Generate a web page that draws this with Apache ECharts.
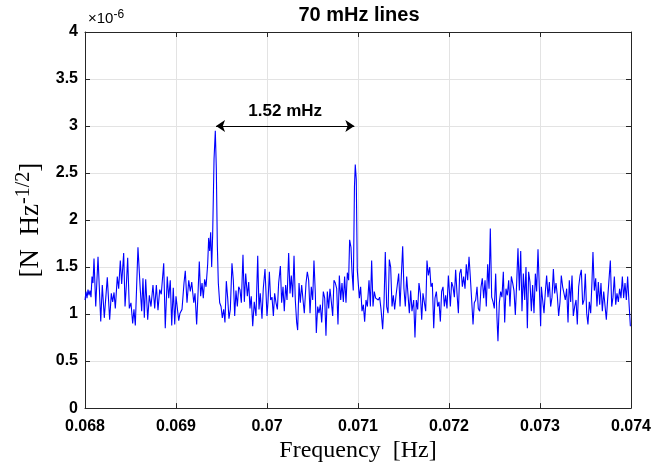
<!DOCTYPE html>
<html>
<head>
<meta charset="utf-8">
<script src="https://cdn.jsdelivr.net/npm/echarts@6/dist/echarts.min.js"></script>
<style>
html,body{margin:0;padding:0;background:#fff;}
#chart{width:667px;height:468px;}
</style>
</head>
<body>
<div id="chart"></div>
<script>
// Frequency bins [Hz]
const freqs = [
0.068000,0.068011,0.068022,0.068033,0.068044,0.068055,0.068066,0.068077,0.068088,0.068099,
0.068118,0.068143,0.068173,0.068190,0.068212,0.068245,0.068271,0.068289,0.068304,0.068319,
0.068333,0.068355,0.068370,0.068388,0.068403,0.068425,0.068440,0.068454,0.068469,0.068487,
0.068505,0.068524,0.068538,0.068553,0.068582,0.068608,0.068623,0.068637,0.068652,0.068667,
0.068689,0.068707,0.068725,0.068747,0.068766,0.068784,0.068802,0.068821,0.068838,0.068865,
0.068882,0.068904,0.068920,0.068937,0.068953,0.068970,0.068986,
0.069000,0.069011,0.069030,0.069044,0.069066,0.069088,0.069102,0.069121,0.069140,0.069157,
0.069173,0.069195,0.069209,0.069227,0.069242,0.069256,0.069271,0.069286,0.069300,0.069315,
0.069330,0.069348,0.069359,0.069370,0.069381,0.069392,0.069403,0.069418,0.069432,0.069443,
0.069454,0.069465,0.069480,0.069495,0.069509,0.069524,0.069538,0.069553,0.069568,0.069582,
0.069597,0.069615,0.069630,0.069645,0.069659,0.069674,0.069689,0.069703,0.069718,0.069736,
0.069751,0.069766,0.069784,0.069799,0.069813,0.069827,0.069843,0.069860,0.069879,0.069898,
0.069912,0.069926,0.069945,0.069959,0.069978,
0.070000,0.070011,0.070026,0.070040,0.070055,0.070070,0.070084,0.070099,0.070114,0.070128,
0.070147,0.070161,0.070176,0.070190,0.070205,0.070220,0.070238,0.070253,0.070267,0.070282,
0.070297,0.070311,0.070326,0.070337,0.070352,0.070366,0.070381,0.070396,0.070410,0.070429,
0.070443,0.070458,0.070473,0.070487,0.070502,0.070516,0.070531,0.070542,0.070557,0.070571,
0.070586,0.070601,0.070619,0.070634,0.070648,0.070663,0.070678,0.070692,0.070707,0.070722,
0.070736,0.070751,0.070766,0.070780,0.070795,0.070810,0.070824,0.070839,0.070853,0.070868,
0.070883,0.070897,0.070908,0.070923,
0.070934,0.070948,0.070961,0.070970,0.070981,0.070992,
0.071015,0.071029,0.071044,0.071059,0.071073,0.071088,0.071103,0.071121,0.071136,0.071150,
0.071165,0.071179,0.071194,0.071209,0.071223,0.071238,0.071253,0.071271,0.071286,0.071300,
0.071315,0.071330,0.071344,0.071359,0.071374,0.071388,0.071403,0.071418,0.071432,0.071447,
0.071462,0.071476,0.071491,0.071505,0.071520,0.071535,0.071549,0.071564,0.071579,0.071593,
0.071612,0.071626,0.071641,0.071656,0.071670,0.071685,0.071700,0.071714,0.071729,0.071744,
0.071758,0.071773,0.071788,0.071802,0.071817,0.071832,0.071846,0.071861,0.071875,0.071890,
0.071905,0.071919,0.071934,0.071949,0.071963,0.071978,0.071993,
0.072015,0.072029,0.072044,0.072059,0.072073,0.072088,0.072103,0.072117,0.072132,0.072147,
0.072161,0.072176,0.072190,0.072205,0.072220,0.072234,0.072249,0.072264,0.072278,0.072293,
0.072308,0.072322,0.072337,0.072352,0.072366,0.072381,0.072396,0.072410,0.072425,0.072440,
0.072454,0.072469,0.072484,0.072498,0.072513,0.072527,0.072538,0.072553,0.072568,0.072582,
0.072597,0.072612,0.072626,0.072641,0.072656,0.072670,0.072685,0.072700,0.072714,0.072729,
0.072744,0.072758,0.072773,0.072788,0.072802,0.072817,0.072832,0.072846,0.072861,0.072875,
0.072890,0.072905,0.072919,0.072934,0.072949,0.072963,0.072978,0.072993,0.073007,
0.073015,0.073029,0.073044,0.073059,0.073073,0.073088,0.073103,0.073117,0.073132,0.073147,
0.073161,0.073176,0.073190,0.073205,0.073220,0.073234,0.073249,0.073264,0.073278,0.073293,
0.073308,0.073322,0.073337,0.073352,0.073366,0.073381,0.073396,0.073410,0.073425,0.073440,
0.073454,0.073469,0.073484,0.073498,0.073513,0.073527,0.073542,0.073557,0.073571,0.073582,
0.073597,0.073612,0.073626,0.073641,0.073656,0.073670,0.073685,0.073700,0.073714,0.073729,
0.073744,0.073758,0.073773,0.073788,0.073802,0.073817,0.073832,0.073846,0.073861,0.073875,
0.073890,0.073905,0.073919,0.073934,0.073949,0.073963,0.073978,0.073993
];
// Amplitude spectral density, in units of 1e-6 N Hz^-1/2
const psd = [
1.15,1.24,1.17,1.26,1.20,1.25,1.18,1.40,1.33,1.59,
1.08,1.61,0.92,1.31,0.96,1.39,0.94,1.22,1.13,1.23,
1.06,1.40,1.27,1.57,1.32,1.65,1.08,1.30,1.60,1.06,
1.12,0.90,1.05,0.88,1.71,1.25,1.03,1.38,0.96,1.37,
0.94,1.20,1.08,1.31,1.06,1.31,1.04,1.26,1.21,1.54,
0.85,1.40,1.17,1.36,0.88,1.28,0.89,
1.19,1.17,0.93,1.01,1.05,1.33,1.46,1.12,1.36,1.24,
1.34,1.12,1.22,0.89,1.22,1.56,1.19,1.33,1.17,1.37,
1.29,1.53,1.81,1.67,1.87,1.50,1.85,2.65,2.95,2.55,
1.74,1.33,1.12,1.08,0.96,1.05,0.91,1.35,1.17,0.95,
1.05,1.54,1.36,0.98,1.25,1.08,1.29,1.26,1.12,1.63,
1.13,1.43,1.19,1.34,1.06,1.19,0.87,1.13,0.98,1.62,
1.05,1.22,0.95,1.27,1.48,
0.98,1.13,1.45,1.15,1.18,0.98,1.22,1.12,1.05,1.33,
1.51,1.12,1.29,1.03,1.31,1.15,1.65,1.22,1.41,1.18,
1.62,1.15,0.91,0.83,1.33,1.12,1.31,1.15,1.01,1.33,
1.45,1.36,1.01,1.29,1.15,1.57,1.22,0.80,1.08,1.01,
1.10,0.91,1.24,1.17,0.77,1.24,1.06,1.27,1.13,0.98,
1.36,1.33,1.27,0.89,1.41,1.15,1.33,1.13,1.40,1.12,
1.44,1.36,1.79,1.71,
1.45,1.25,2.35,2.59,2.43,1.47,
1.17,1.29,1.03,1.10,0.92,1.15,1.08,1.36,1.08,1.57,
1.08,1.24,1.17,1.19,1.15,1.18,1.05,0.84,1.12,1.66,
1.08,1.01,1.58,1.50,1.08,1.20,1.05,1.20,1.18,1.43,
1.08,1.40,1.72,1.27,1.08,1.40,1.38,1.01,1.25,1.03,
1.15,0.75,1.15,1.05,1.33,1.22,0.94,1.22,1.20,1.03,
1.57,1.41,1.50,1.29,1.33,0.85,1.17,1.24,1.08,1.13,
0.92,1.24,1.29,1.08,1.20,1.06,1.41,
1.08,1.34,1.29,1.18,1.47,1.22,1.01,1.43,1.48,1.29,
1.40,1.27,1.53,1.36,1.61,1.40,1.15,0.89,1.12,1.15,
1.29,1.06,1.03,1.29,1.38,1.17,1.36,1.08,1.53,1.27,
1.91,1.18,1.13,1.06,1.43,0.96,0.71,1.12,1.24,1.18,
1.45,0.91,1.27,1.20,1.36,1.08,1.40,1.33,1.25,0.99,
1.34,1.70,1.25,1.67,1.03,1.43,1.15,1.50,0.85,1.45,
1.34,1.03,1.31,1.01,1.43,1.24,1.69,1.27,0.87,
1.29,1.15,1.01,1.24,1.41,1.18,1.34,1.08,1.18,1.48,
1.22,1.33,1.20,0.98,1.13,1.41,1.29,1.31,1.15,1.27,
0.91,1.36,1.13,1.41,0.98,1.08,1.15,0.89,1.29,1.41,
1.47,1.10,1.15,1.43,1.01,0.89,1.13,1.01,1.34,1.66,
1.25,1.38,1.08,1.34,1.10,1.33,1.03,1.24,1.22,0.94,
1.17,1.15,1.57,1.08,1.18,1.40,1.10,1.22,1.13,1.27,
1.17,1.40,1.17,1.33,1.15,1.40,1.12,0.87
];
const xTickLabels = ['0.068','0.069','0.07','0.071','0.072','0.073','0.074'];
const yTickLabels = ['0','0.5','1','1.5','2','2.5','3','3.5','4'];
const peakFreqs = [0.06944, 0.07096];
const arrowLevel = 3.0;
const arrowText = '1.52 mHz';
const titleText = '70 mHz lines';

const data = freqs.map((f, i) => [f, psd[i]]);
const axisColor = '#262626';
const gridColor = '#e3e3e3';
const sans = '"Liberation Sans", Arial, Helvetica, sans-serif';
const serif = '"Liberation Serif", "Times New Roman", serif';

const chart = echarts.init(document.getElementById('chart'), null, {renderer: 'canvas'});
const commonX = {
  type: 'value', min: 0.068, max: 0.074, interval: 0.001,
  axisLine: {show: true, onZero: false, lineStyle: {color: axisColor, width: 1}},
  axisTick: {show: true, inside: true, length: 5, lineStyle: {color: axisColor}}
};
const commonY = {
  type: 'value', min: 0, max: 4, interval: 0.5,
  axisLine: {show: true, onZero: false, lineStyle: {color: axisColor, width: 1}},
  axisTick: {show: true, inside: true, length: 5, lineStyle: {color: axisColor}}
};
chart.setOption({
  animation: false,
  backgroundColor: '#ffffff',
  grid: {left: 85, right: 36, top: 32, bottom: 55, containLabel: false},
  xAxis: [
    Object.assign({}, commonX, {
      position: 'bottom',
      splitLine: {show: true, lineStyle: {color: gridColor, width: 1}},
      axisLabel: {
        show: true, color: '#000', fontFamily: sans, fontWeight: 'bold', fontSize: 16, margin: 10,
        formatter: v => xTickLabels[Math.round((v - 0.068) / 0.001)]
      },
      name: 'Frequency  [Hz]', nameLocation: 'middle', nameGap: 28,
      nameTextStyle: {fontFamily: serif, fontSize: 24, color: '#000'}
    }),
    Object.assign({}, commonX, {
      position: 'top', splitLine: {show: false}, axisLabel: {show: false}
    })
  ],
  yAxis: [
    Object.assign({}, commonY, {
      position: 'left',
      splitLine: {show: true, lineStyle: {color: gridColor, width: 1}},
      axisLabel: {
        show: true, color: '#000', fontFamily: sans, fontWeight: 'bold', fontSize: 16, margin: 7,
        formatter: v => yTickLabels[Math.round(v / 0.5)]
      },
      name: '{a|[N  Hz}{b|-1/2}{a|]}', nameLocation: 'middle', nameGap: 37, nameRotate: 90,
      nameTextStyle: {
        rich: {
          a: {fontFamily: serif, fontSize: 27, color: '#000'},
          b: {fontFamily: serif, fontSize: 20, color: '#000', padding: [0, 0, 14, 0]}
        }
      }
    }),
    Object.assign({}, commonY, {
      position: 'right', splitLine: {show: false}, axisLabel: {show: false}
    })
  ],
  graphic: [
    {type: 'text', x: 359, y: 15, style: {text: titleText, font: 'bold 20px ' + sans, fill: '#000', textAlign: 'center', textVerticalAlign: 'middle'}},
    {type: 'text', x: 88, y: 19, style: {
      text: '{m|\u00d710}{s|-6}', textVerticalAlign: 'middle',
      rich: {m: {fontFamily: sans, fontSize: 15, color: '#000'}, s: {fontFamily: sans, fontSize: 12, color: '#000', padding: [0, 0, 9, 0]}}
    }}
  ],
  series: [{
    type: 'line', xAxisIndex: 0, yAxisIndex: 0, data: data,
    showSymbol: false, symbol: 'none', smooth: false,
    lineStyle: {color: '#0000ff', width: 1.1},
    itemStyle: {color: '#0000ff'},
    markLine: {
      silent: true, animation: false,
      symbol: ['arrow', 'arrow'], symbolSize: 9,
      lineStyle: {color: '#000', width: 1, type: 'solid'},
      label: {show: true, position: 'middle', formatter: arrowText, color: '#000', fontFamily: sans, fontWeight: 'bold', fontSize: 17, distance: 6},
      data: [[{coord: [peakFreqs[0], arrowLevel]}, {coord: [peakFreqs[1], arrowLevel]}]]
    }
  }]
});
</script>
</body>
</html>
